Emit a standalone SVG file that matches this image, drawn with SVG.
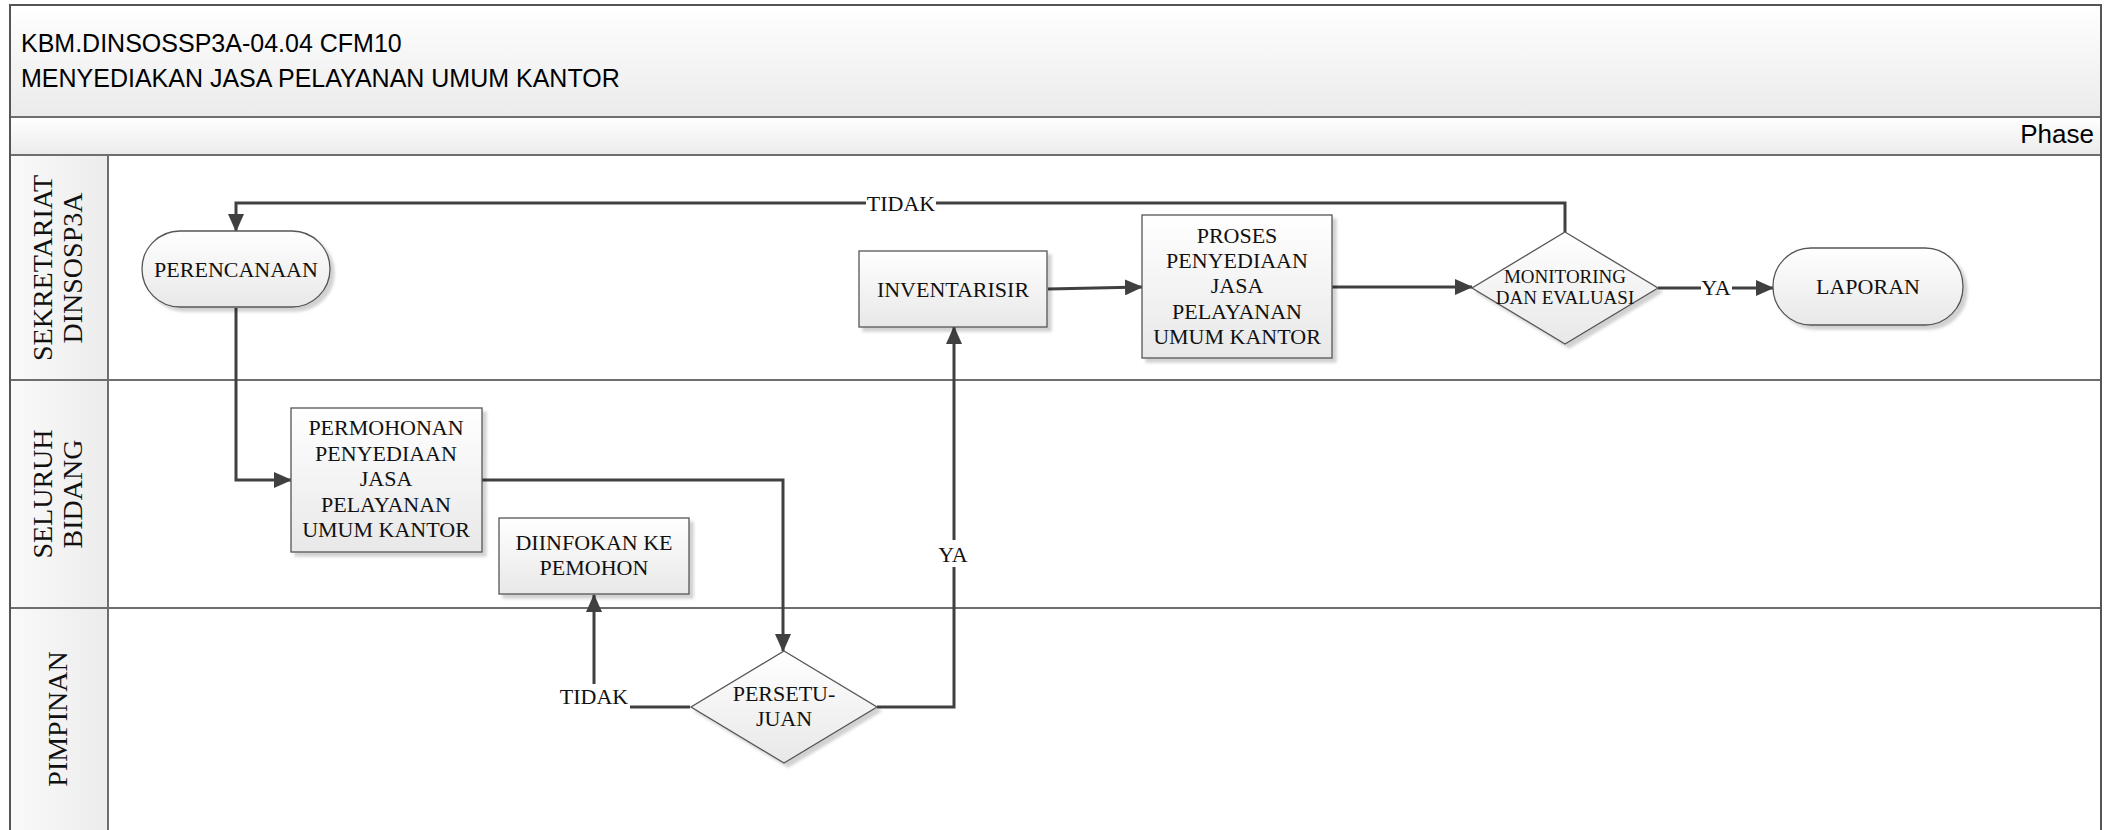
<svg xmlns="http://www.w3.org/2000/svg" width="2106" height="830" viewBox="0 0 2106 830">
  <defs>
    <linearGradient id="gv" x1="0" y1="0" x2="0" y2="1">
      <stop offset="0" stop-color="#ffffff"/>
      <stop offset="1" stop-color="#ebebeb"/>
    </linearGradient>
    <linearGradient id="gh" x1="0" y1="0" x2="1" y2="0">
      <stop offset="0" stop-color="#fafafa"/>
      <stop offset="1" stop-color="#ececec"/>
    </linearGradient>
    <linearGradient id="gn" x1="0" y1="0" x2="0" y2="1">
      <stop offset="0" stop-color="#ffffff"/>
      <stop offset="1" stop-color="#e8e8e8"/>
    </linearGradient>
    <filter id="sh" x="-10%" y="-10%" width="130%" height="130%">
      <feDropShadow dx="4" dy="4" stdDeviation="1.5" flood-color="#000" flood-opacity="0.18"/>
    </filter>
    <marker id="ah" markerUnits="userSpaceOnUse" viewBox="0 0 18 16" markerWidth="18" markerHeight="16" refX="17" refY="8" orient="auto">
      <path d="M0,0 L18,8 L0,16 z" fill="#404040"/>
    </marker>
  </defs>
  <style>
    .frame { fill: none; stroke: #555; stroke-width: 2; }
    .sep { stroke: #6e6e6e; stroke-width: 2; fill: none; }
    .hdr { font-family: "Liberation Sans", Arial, sans-serif; fill: #000; }
    .lane { font-family: "Liberation Serif", "Times New Roman", serif; font-size: 28px; fill: #111; text-anchor: middle; }
    .node { fill: url(#gn); stroke: #555; stroke-width: 1.3; filter: url(#sh); }
    .nt { font-family: "Liberation Serif", "Times New Roman", serif; font-size: 22px; fill: #111; text-anchor: middle; }
    .ns { font-family: "Liberation Serif", "Times New Roman", serif; font-size: 19px; fill: #111; text-anchor: middle; }
    .conn { fill: none; stroke: #404040; stroke-width: 3; }
    .lbl { font-family: "Liberation Serif", "Times New Roman", serif; font-size: 22px; fill: #111; text-anchor: middle; }
    .lblbg { fill: #ffffff; }
  </style>

  <g id="pool">
    <rect x="10" y="5" width="2091" height="112" fill="url(#gv)"/>
    <rect x="10" y="117" width="2091" height="38" fill="url(#gv)"/>
    <rect x="10" y="155" width="98" height="680" fill="url(#gh)"/>
    <rect x="108" y="155" width="1993" height="680" fill="#ffffff"/>
    <text class="hdr" x="21" y="52" font-size="25">KBM.DINSOSSP3A-04.04 CFM10</text>
    <text class="hdr" x="21" y="87" font-size="25">MENYEDIAKAN JASA PELAYANAN UMUM KANTOR</text>
    <text class="hdr" x="2094" y="143" font-size="26" text-anchor="end">Phase</text>
    <line class="sep" x1="10" y1="117" x2="2101" y2="117"/>
    <line class="sep" x1="10" y1="155" x2="2101" y2="155"/>
    <line class="sep" x1="10" y1="380" x2="2101" y2="380"/>
    <line class="sep" x1="10" y1="608" x2="2101" y2="608"/>
    <line class="sep" x1="108" y1="155" x2="108" y2="830"/>
    <path class="frame" d="M10,835 V5 H2101 V835"/>
  </g>

  <g id="lane-sekretariat">
    <text class="lane" transform="translate(52,268) rotate(-90)"><tspan x="0" y="0">SEKRETARIAT</tspan><tspan x="0" y="30">DINSOSP3A</tspan></text>
  </g>
  <g id="lane-seluruh-bidang">
    <text class="lane" transform="translate(52,494) rotate(-90)"><tspan x="0" y="0">SELURUH</tspan><tspan x="0" y="30">BIDANG</tspan></text>
  </g>
  <g id="lane-pimpinan">
    <text class="lane" transform="translate(67,719) rotate(-90)">PIMPINAN</text>
  </g>

  <g id="connectors">
    <path class="conn" d="M236,308 V480 H291" marker-end="url(#ah)"/>
    <path class="conn" d="M482,480 H783 V651" marker-end="url(#ah)"/>
    <path class="conn" d="M690,707 H594 V595" marker-end="url(#ah)"/>
    <path class="conn" d="M877,707 H954 V327" marker-end="url(#ah)"/>
    <path class="conn" d="M1048,289 L1142,287" marker-end="url(#ah)"/>
    <path class="conn" d="M1332,287 H1472" marker-end="url(#ah)"/>
    <path class="conn" d="M1658,288 H1773" marker-end="url(#ah)"/>
    <path class="conn" d="M1565,232 V203 H236 V231" marker-end="url(#ah)"/>
    <rect class="lblbg" x="559" y="684" width="71" height="25"/>
    <text class="lbl" x="594" y="704">TIDAK</text>
    <rect class="lblbg" x="938" y="540" width="31" height="27"/>
    <text class="lbl" x="953" y="562">YA</text>
    <rect class="lblbg" x="1701" y="276" width="31" height="24"/>
    <text class="lbl" x="1716" y="295">YA</text>
    <rect class="lblbg" x="866" y="192" width="70" height="22"/>
    <text class="lbl" x="901" y="211">TIDAK</text>
  </g>

  <g id="n-perencanaan">
    <rect class="node" x="142" y="231" width="188" height="76" rx="38" ry="38"/>
    <text class="nt" x="236" y="277">PERENCANAAN</text>
  </g>
  <g id="n-permohonan">
    <rect class="node" x="291" y="408" width="191" height="144"/>
    <text class="nt" x="386"><tspan x="386" y="435">PERMOHONAN</tspan><tspan x="386" y="461">PENYEDIAAN</tspan><tspan x="386" y="486">JASA</tspan><tspan x="386" y="512">PELAYANAN</tspan><tspan x="386" y="537">UMUM KANTOR</tspan></text>
  </g>
  <g id="n-diinfokan">
    <rect class="node" x="499" y="518" width="190" height="76"/>
    <text class="nt"><tspan x="594" y="550">DIINFOKAN KE</tspan><tspan x="594" y="575">PEMOHON</tspan></text>
  </g>
  <g id="n-persetujuan">
    <polygon class="node" points="784,651 877,707 784,763 691,707"/>
    <text class="nt"><tspan x="784" y="701">PERSETU-</tspan><tspan x="784" y="726">JUAN</tspan></text>
  </g>
  <g id="n-inventarisir">
    <rect class="node" x="859" y="251" width="188" height="76"/>
    <text class="nt" x="953" y="297">INVENTARISIR</text>
  </g>
  <g id="n-proses">
    <rect class="node" x="1142" y="215" width="190" height="143"/>
    <text class="nt"><tspan x="1237" y="243">PROSES</tspan><tspan x="1237" y="268">PENYEDIAAN</tspan><tspan x="1237" y="293">JASA</tspan><tspan x="1237" y="319">PELAYANAN</tspan><tspan x="1237" y="344">UMUM KANTOR</tspan></text>
  </g>
  <g id="n-monitoring">
    <polygon class="node" points="1565,232 1658,288 1565,344 1472,288"/>
    <text class="ns"><tspan x="1565" y="283">MONITORING</tspan><tspan x="1565" y="304">DAN EVALUASI</tspan></text>
  </g>
  <g id="n-laporan">
    <rect class="node" x="1773" y="248" width="190" height="77" rx="38" ry="38"/>
    <text class="nt" x="1868" y="294">LAPORAN</text>
  </g>
</svg>
